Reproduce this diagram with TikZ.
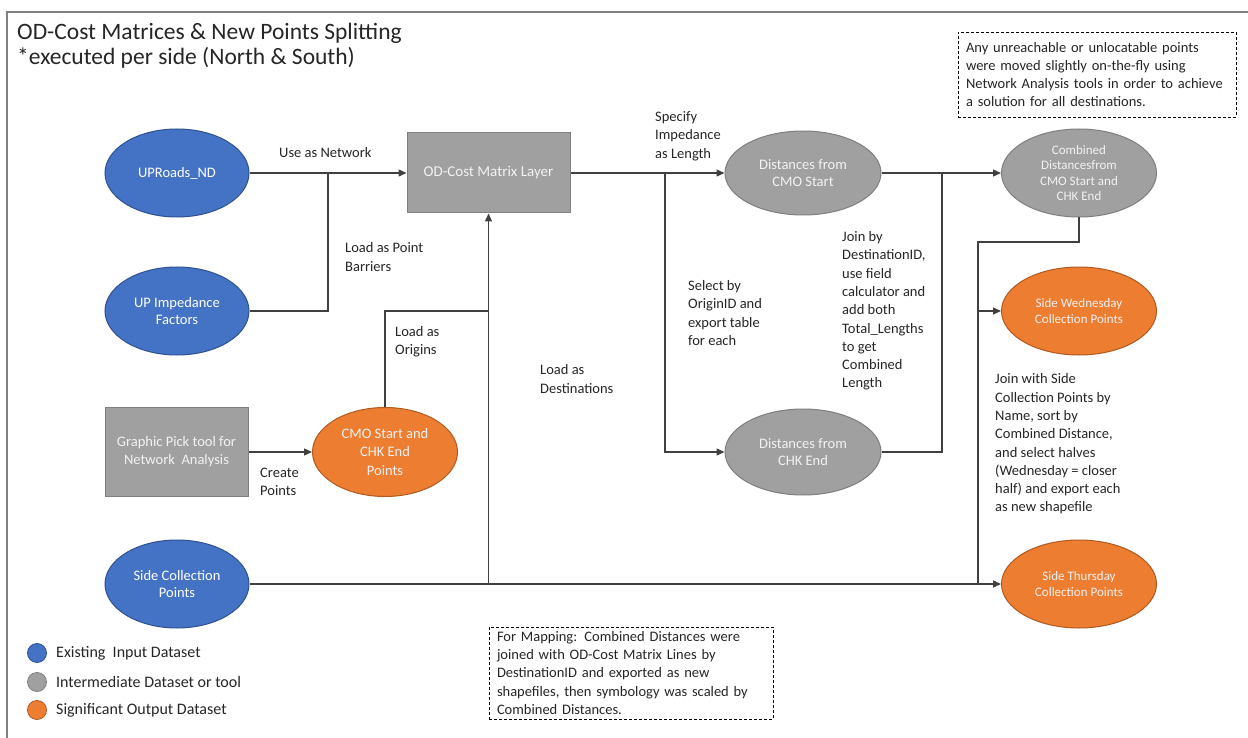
\documentclass[tikz,border=0pt]{standalone}
\usepackage{fontspec}
\setmainfont{Carlito}
\usetikzlibrary{shapes.geometric,arrows.meta}
\definecolor{cblue}{HTML}{4472C4}
\definecolor{cblueb}{HTML}{2F528F}
\definecolor{cgray}{HTML}{A0A0A0}
\definecolor{cgrayb}{HTML}{7F7F7F}
\definecolor{corange}{HTML}{ED7D31}
\definecolor{corangeb}{HTML}{AE5A21}
\definecolor{ctext}{HTML}{262626}
\definecolor{cline}{HTML}{404040}
\definecolor{cframe}{HTML}{808080}
\begin{document}
\begin{tikzpicture}[x=1pt,y=-1pt,
  ell/.style={ellipse, line width=1pt, inner sep=0pt, align=center, text=white,
    minimum width=155, minimum height=88, font=\fontsize{14.5}{17}\selectfont},
  blueell/.style={ell, fill=cblue, draw=cblueb, minimum width=144},
  grayell/.style={ell, fill=cgray, draw=cgrayb, text=white!95!black},
  orangeell/.style={ell, fill=corange, draw=corangeb, text=white!95!black},
  graybox/.style={rectangle, fill=cgray, draw=cgrayb, line width=1pt, align=center,
    text=white!95!black, font=\fontsize{14.5}{18}\selectfont},
  lbl/.style={anchor=west, align=left, inner sep=0pt, text=ctext,
    font=\fontsize{14.5}{18.3}\selectfont},
  leglbl/.style={lbl, font=\fontsize{16}{18}\selectfont},
  notebox/.style={draw=black, dashed, dash pattern=on 3pt off 2pt, line width=0.9pt,
    align=left, inner xsep=8pt, inner ysep=0pt, text=ctext,
    font=\fontsize{14.5}{18.3}\selectfont},
  conn/.style={draw=cline, line width=1.3pt},
  arr/.style={conn, -{Triangle[length=8pt,width=7pt]}},
  legdot/.style={circle, line width=0.8pt, minimum size=19pt, inner sep=0pt}
]
\useasboundingbox (0,0) rectangle (1248,738);
\fill[white] (0,0) rectangle (1248,738);
% frame
\draw[cframe, line width=2pt] (1248,12) -- (7,12) -- (7,738);
% title
\node[anchor=west, align=left, inner sep=0pt, text=ctext,
  font=\fontsize{23.5}{25}\selectfont] (title) at (17,45.5)
  {OD-Cost Matrices \& New Points Splitting\\{*}executed per side (North \& South)};
% notes
\node[notebox, minimum width=278pt, minimum height=85pt, text width=262pt] (note1) at (1097,74.5)
  {Any unreachable or unlocatable points\\were moved slightly on-the-fly using\\Network Analysis tools in order to achieve\\a solution for all destinations.};
\node[notebox, minimum width=284pt, minimum height=92pt, text width=268pt] (note2) at (631,673)
  {For Mapping: Combined Distances were\\joined with OD-Cost Matrix Lines by\\DestinationID and exported as new\\shapefiles, then symbology was scaled by\\Combined Distances.};
% nodes
\node[blueell] (roads) at (177,173) {UPRoads\_ND};
\node[blueell] (imp) at (177,311) {UP Impedance\\Factors};
\node[graybox, minimum width=143pt, minimum height=89pt] (pick) at (176.5,452) {Graphic Pick tool for\\Network\ \ Analysis};
\node[blueell] (side) at (177,584) {Side Collection\\Points};
\node[orangeell, minimum width=145pt, minimum height=89pt, font=\fontsize{14.5}{18.5}\selectfont] (cmo) at (385,452) {CMO Start and\\CHK End\\Points};
\node[graybox, minimum width=163pt, minimum height=80pt, font=\fontsize{15}{18}\selectfont] (od) at (488.5,173) {OD-Cost Matrix Layer};
\node[grayell, minimum width=156pt, minimum height=84pt] (dcmo) at (803,173) {Distances from\\CMO Start};
\node[grayell, minimum width=156pt, minimum height=86pt] (dchk) at (803,452) {Distances from\\CHK End};
\node[grayell, font=\fontsize{13}{15.3}\selectfont] (comb) at (1079,173) {Combined\\Distancesfrom\\CMO Start and\\CHK End};
\node[orangeell, font=\fontsize{13}{15.5}\selectfont] (wed) at (1079,311) {Side Wednesday\\Collection Points};
\node[orangeell, font=\fontsize{13}{15.5}\selectfont] (thu) at (1079,584) {Side Thursday\\Collection Points};
% junctions
\coordinate (j1) at (328,173);
\coordinate (j2) at (488.5,311);
\coordinate (j3) at (488.5,584);
\coordinate (j4) at (665,173);
\coordinate (j5) at (942,173);
\coordinate (j6) at (978,242);
\coordinate (j7) at (978,584);
\coordinate (j8) at (978,311);
% connectors
\draw[arr] (roads.east) -- (od.west);
\draw[conn] (imp.east) -| (j1);
\draw[arr] (cmo.north) |- (j2) -- (od.south);
\draw[conn] (j3) -- (j2);
\draw[arr] (pick.east) -- (cmo.west);
\draw[arr] (side.east) -- (thu.west);
\draw[arr] (od.east) -- (dcmo.west);
\draw[arr] (j4) |- (dchk.west);
\draw[arr] (dcmo.east) -- (comb.west);
\draw[conn] (dchk.east) -| (j5);
\draw[conn] (comb.south) |- (j6) -- (j7);
\draw[arr] (j8) -- (wed.west);
% labels
\node[lbl] (l1) at (279,153) {Use as Network};
\node[lbl] (l2) at (345,257) {Load as Point\\Barriers};
\node[lbl] (l3) at (395,342) {Load as\\Origins};
\node[lbl] (l4) at (540,379) {Load as\\Destinations};
\node[lbl] (l5) at (260,482) {Create\\Points};
\node[lbl] (l6) at (655,136) {Specify\\Impedance\\as Length};
\node[lbl] (l7) at (688,313) {Select by\\OriginID and\\export table\\for each};
\node[lbl] (l8) at (842,311) {Join by\\DestinationID,\\use field\\calculator and\\add both\\Total\_Lengths\\to get\\Combined\\Length};
\node[lbl] (l9) at (995,444) {Join with Side\\Collection Points by\\Name, sort by\\Combined Distance,\\and select halves\\(Wednesday = closer\\half) and export each\\as new shapefile};
% legend
\node[legdot, fill=cblue, draw=cblueb] (lg1) at (37,653) {};
\node[legdot, fill=cgray, draw=cgrayb] (lg2) at (37,682) {};
\node[legdot, fill=corange, draw=corangeb] (lg3) at (37,710) {};
\node[leglbl] (lt1) at (56,653) {Existing\ \ Input Dataset};
\node[leglbl] (lt2) at (56,682) {Intermediate Dataset or tool};
\node[leglbl] (lt3) at (56,710) {Significant Output Dataset};
\end{tikzpicture}
\end{document}
